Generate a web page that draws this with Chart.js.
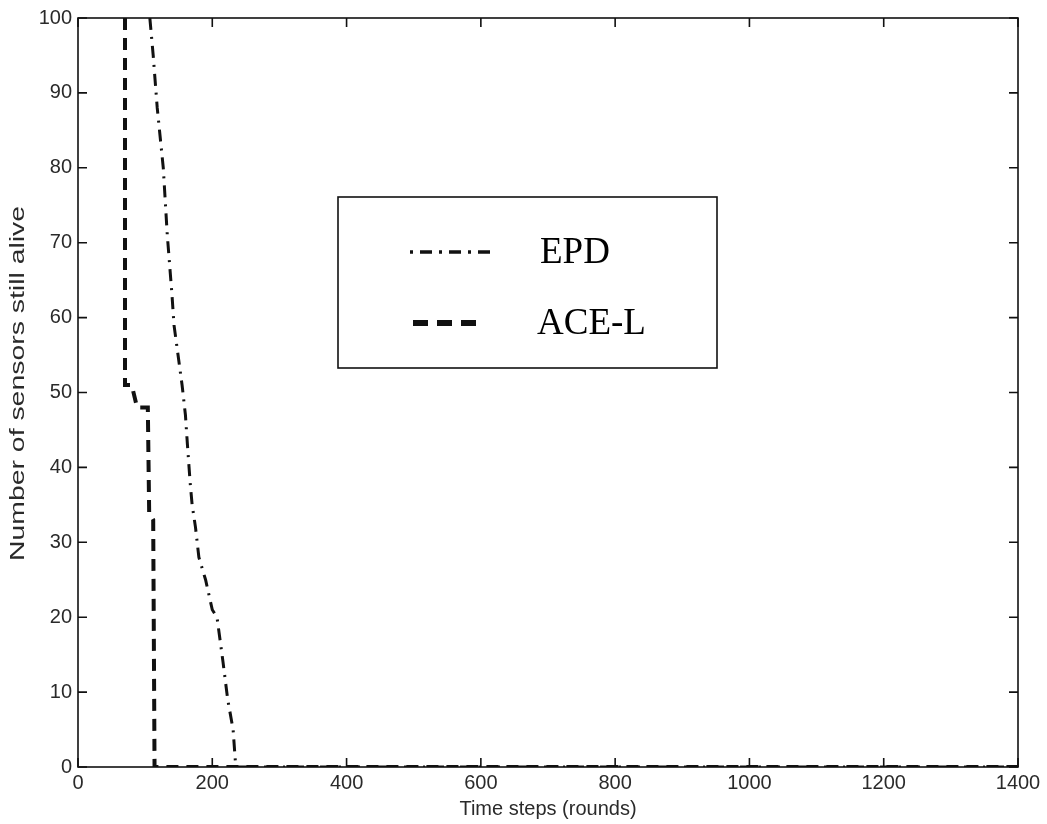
<!DOCTYPE html>
<html>
<head>
<meta charset="utf-8">
<script src="https://cdn.jsdelivr.net/npm/chart.js@4.4.1/dist/chart.umd.min.js"></script>
<style>
  html, body { margin: 0; padding: 0; background: #fff; }
  canvas { display: block; }
</style>
</head>
<body>
<canvas id="chart" width="1047" height="824"></canvas>
<script>
// EPD (dash-dot)
const epdRounds = [107, 112, 118, 127, 133, 140, 143, 149, 155, 160, 163, 167, 170, 175, 180, 190, 200, 207, 216, 223, 231, 235, 1400];
const epdAlive  = [100, 95, 88, 80, 71, 63, 59, 55, 51, 47, 43, 38, 35, 32, 28, 25, 21, 20, 14, 9, 5, 0, 0];

// ACE-L (dashed)
const aceRounds = [70, 70, 80, 88, 104, 106, 112, 114, 1400];
const aceAlive  = [100, 51, 51, 48, 48, 34, 33, 0, 0];

const xTicks = [0, 200, 400, 600, 800, 1000, 1200, 1400];
const yTicks = [0, 10, 20, 30, 40, 50, 60, 70, 80, 90, 100];

const seriesNames = ['EPD', 'ACE-L'];

const INK = '#111';
const LABEL = '#2a2a2a';
const SANS = "'Liberation Sans', Arial, sans-serif";

function pts(xs, ys) {
  return xs.map((x, i) => ({ x: x, y: ys[i] }));
}

// MATLAB-style box, inward ticks, legend and y title
const matlabFrame = {
  id: 'matlabFrame',
  afterDraw(chart) {
    const { ctx, chartArea: a, scales } = chart;
    ctx.save();
    ctx.strokeStyle = INK;
    ctx.lineWidth = 1.6;
    ctx.setLineDash([]);
    ctx.strokeRect(a.left, a.top, a.right - a.left, a.bottom - a.top);

    const len = 9;
    ctx.beginPath();
    xTicks.forEach(v => {
      const px = scales.x.getPixelForValue(v);
      ctx.moveTo(px, a.bottom); ctx.lineTo(px, a.bottom - len);
      ctx.moveTo(px, a.top); ctx.lineTo(px, a.top + len);
    });
    yTicks.forEach(v => {
      const py = scales.y.getPixelForValue(v);
      ctx.moveTo(a.left, py); ctx.lineTo(a.left + len, py);
      ctx.moveTo(a.right, py); ctx.lineTo(a.right - len, py);
    });
    ctx.stroke();

    // legend box
    const bx = 338, by = 197, bw = 379, bh = 171;
    ctx.fillStyle = '#fff';
    ctx.fillRect(bx, by, bw, bh);
    ctx.lineWidth = 1.6;
    ctx.strokeRect(bx, by, bw, bh);

    const dsets = chart.data.datasets;
    const rows = [
      { y: 252, x0: 410, x1: 490, tx: 540, w: 3.5, dash: [3, 7, 12, 7] },
      { y: 323, x0: 413, x1: 478, tx: 537, w: 6, dash: [15, 9] },
    ];
    rows.forEach((r, i) => {
      ctx.beginPath();
      ctx.lineWidth = r.w;
      ctx.setLineDash(r.dash);
      ctx.strokeStyle = dsets[i].borderColor;
      ctx.moveTo(r.x0, r.y); ctx.lineTo(r.x1, r.y);
      ctx.stroke();
      ctx.setLineDash([]);
      ctx.fillStyle = '#000';
      ctx.font = '37px "Liberation Serif", "Times New Roman", serif';
      ctx.textBaseline = 'middle';
      ctx.textAlign = 'left';
      ctx.fillText(seriesNames[i], r.tx, r.y + 1);
    });

    // y title (scanned text is stretched along its length)
    ctx.translate(18, (a.top + a.bottom) / 2 - 9);
    ctx.rotate(-Math.PI / 2);
    ctx.scale(1.42, 1);
    ctx.fillStyle = LABEL;
    ctx.font = '20px ' + SANS;
    ctx.textAlign = 'center';
    ctx.textBaseline = 'middle';
    ctx.fillText('Number of sensors still alive', 0, 0);
    ctx.restore();
  }
};

new Chart(document.getElementById('chart'), {
  type: 'scatter',
  data: {
    datasets: [{
      label: seriesNames[0],
      data: pts(epdRounds, epdAlive),
      showLine: true,
      borderColor: INK,
      borderWidth: 3,
      borderDash: [12, 7, 2, 7],
      pointRadius: 0,
      fill: false,
    }, {
      label: seriesNames[1],
      data: pts(aceRounds, aceAlive),
      showLine: true,
      borderColor: INK,
      borderWidth: 4,
      borderDash: [12, 8],
      pointRadius: 0,
      fill: false,
    }],
  },
  options: {
    responsive: false,
    animation: false,
    layout: { padding: { top: 17, right: 29, left: 0, bottom: 0 } },
    plugins: { legend: { display: false }, tooltip: { enabled: false } },
    scales: {
      x: {
        type: 'linear', min: 0, max: 1400,
        afterFit: s => { s.height = 57; },
        afterBuildTicks: s => { s.ticks = xTicks.map(v => ({ value: v })); },
        grid: { display: false, drawTicks: false, tickLength: 0 },
        border: { display: false },
        ticks: { color: LABEL, padding: 4, maxRotation: 0, callback: v => String(v), font: { size: 20, family: SANS } },
        title: {
          display: true, text: 'Time steps (rounds)', color: LABEL,
          padding: { top: 0, bottom: 3 },
          font: { size: 20, family: SANS },
        },
      },
      y: {
        type: 'linear', min: 0, max: 100,
        afterFit: s => { s.width = 78; },
        afterBuildTicks: s => { s.ticks = yTicks.map(v => ({ value: v })); },
        grid: { display: false, drawTicks: false, tickLength: 0 },
        border: { display: false },
        ticks: { color: LABEL, padding: 6, callback: v => String(v), font: { size: 20, family: SANS } },
      },
    },
  },
  plugins: [matlabFrame],
});
</script>
</body>
</html>
